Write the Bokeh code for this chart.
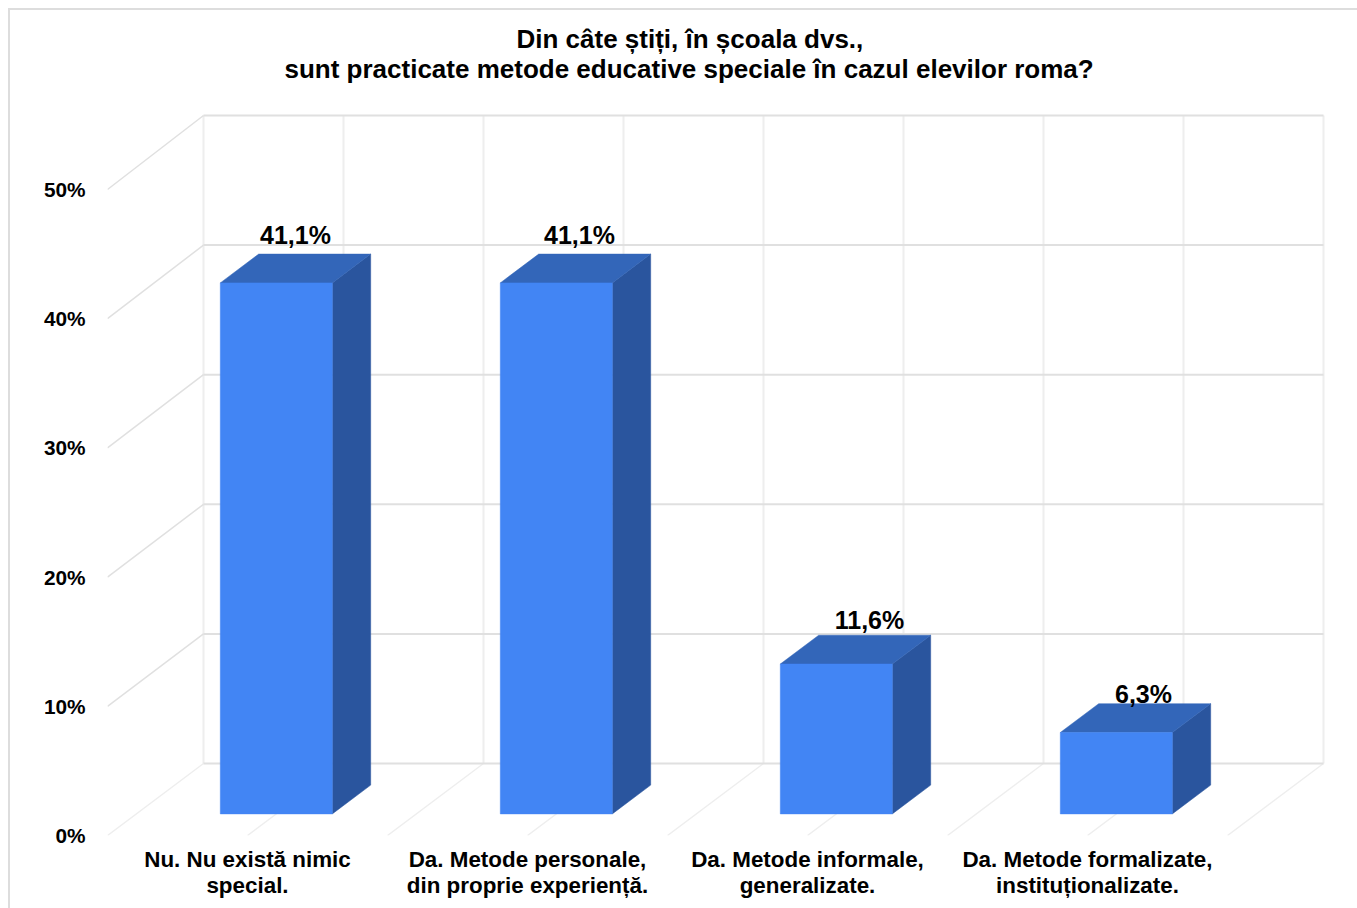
from bokeh.plotting import figure
from bokeh.embed import file_html
from bokeh.resources import INLINE
from bokeh.models import Range1d, FixedTicker, Title, PrintfTickFormatter
from bokeh.core.properties import value

categories = ["Nu. Nu există nimic\nspecial.",
              "Da. Metode personale,\ndin proprie experiență.",
              "Da. Metode informale,\ngeneralizate.",
              "Da. Metode formalizate,\ninstituționalizate."]
values = [41.1, 41.1, 11.6, 6.3]
labels = ["41,1%", "41,1%", "11,6%", "6,3%"]
y_ticks = [0, 10, 20, 30, 40, 50]
title_lines = ["Din câte știți, în școala dvs.,",
               "sunt practicate metode educative speciale în cazul elevilor roma?"]

FONT = "Liberation Sans"
INK = "#000000"
PX_X, PX_Y = 280.0, 12.92      # pixels per category, per percent
DX, DY = 96.0, 72.0            # pixel shift of the full depth
WALL = 12.96 / 12.92           # the back wall is drawn very slightly taller
BAR_W, D0, D1 = 0.4, 0.3, 0.7  # bar width (category units), depth span
n = len(categories)


def proj(u, v, d):
    return u + d * DX / PX_X, v + d * DY / PX_Y


FW, FH = 1220, 723
p = figure(width=1349, height=900, frame_width=FW, frame_height=FH,
           output_backend="svg", toolbar_location=None,
           x_range=Range1d(0, FW / PX_X), y_range=Range1d(0, FH / PX_Y),
           min_border_left=107, min_border_right=22, min_border_top=112, min_border_bottom=65,
           background_fill_color="white", border_fill_color="white", outline_line_color=None)
p.grid.visible = False
# outer frame of the picture: top and left only
p.stylesheets = [":host::before{content:'';position:absolute;left:8px;top:8px;right:-8px;bottom:-8px;"
                 "border-top:2px solid #dddddd;border-left:2px solid #dddddd;z-index:10;pointer-events:none}"]

p.yaxis.ticker = FixedTicker(ticks=y_ticks)
p.yaxis.formatter = PrintfTickFormatter(format="%d%%")
p.xaxis.ticker = FixedTicker(ticks=[i + 0.5 for i in range(n)])
p.xaxis.major_label_overrides = {i + 0.5: c for i, c in enumerate(categories)}
for ax, size, standoff, lh in ((p.yaxis[0], "20.8px", 22, 1.0), (p.xaxis[0], "22.4px", 11, 1.07)):
    ax.axis_line_color = None
    ax.major_tick_line_color = None
    ax.minor_tick_line_color = None
    ax.major_tick_out = 0
    ax.major_label_standoff = standoff
    ax.major_label_text_font = FONT
    ax.major_label_text_font_style = "bold"
    ax.major_label_text_font_size = size
    ax.major_label_text_color = INK
    ax.major_label_text_line_height = lh
p.xaxis[0].major_label_orientation = "horizontal"

p.title = Title(text=title_lines[0], align="left", offset=409, standoff=-60,
                text_font=FONT, text_font_style="bold", text_font_size="26px", text_color=INK)
p.add_layout(Title(text=title_lines[1], align="left", offset=177, standoff=57,
                   text_font=FONT, text_font_style="bold", text_font_size="26px", text_color=INK), "above")

# back wall: vertical lines
xs, ys = [], []
for k in range(2 * n + 1):
    x0, y0 = proj(k / 2, 0, 1)
    x1, y1 = proj(k / 2, y_ticks[-1] * WALL, 1)
    xs.append([x0, x1]); ys.append([y0, y1])
p.multi_line(xs, ys, line_color="#eeeeee", line_width=2)

# floor diagonals
xs, ys = [], []
for k in range(2 * n + 1):
    x0, y0 = proj(k / 2, 0, 0)
    x1, y1 = proj(k / 2, 0, 1)
    xs.append([x0, x1]); ys.append([y0, y1])
p.multi_line(xs, ys, line_color="#eeeeee", line_width=1.5)

# left wall diagonals
xs, ys = [], []
for t in y_ticks[1:]:
    x0, y0 = proj(0, t, 0)
    x1, y1 = proj(0, t * WALL, 1)
    xs.append([x0, x1]); ys.append([y0, y1])
p.multi_line(xs, ys, line_color="#e0e0e0", line_width=1.5)

# back wall: horizontal lines
xs, ys = [], []
for t in y_ticks:
    x0, y0 = proj(0, t * WALL, 1)
    x1, y1 = proj(n, t * WALL, 1)
    xs.append([x0, x1]); ys.append([y0, y1])
p.multi_line(xs, ys, line_color="#e0e0e0", line_width=2)

# bars
front, top, side = ([], []), ([], []), ([], [])


def poly(target, pts):
    P = [proj(*q) for q in pts]
    target[0].append([a for a, _ in P])
    target[1].append([b for _, b in P])


for i, v in enumerate(values):
    l, r = i + 0.5 - BAR_W / 2, i + 0.5 + BAR_W / 2
    poly(front, [(l, 0, D0), (r, 0, D0), (r, v, D0), (l, v, D0)])
    poly(top, [(l, v, D0), (r, v, D0), (r, v, D1), (l, v, D1)])
    poly(side, [(r, 0, D0), (r, 0, D1), (r, v, D1), (r, v, D0)])
p.patches(side[0], side[1], fill_color="#2a559e", line_color="#2a559e", line_width=0.5)
p.patches(top[0], top[1], fill_color="#3366b9", line_color="#3366b9", line_width=0.5)
p.patches(front[0], front[1], fill_color="#4285f4", line_color="#4285f4", line_width=0.5)

# value labels
label_dx = [0, 4, 14, 8]
label_dy = [-33, -33, -30, -24]
lx, ly = [], []
for i, v in enumerate(values):
    a, b = proj(i + 0.5, v, 0.5)
    lx.append(a); ly.append(b)
p.text(lx, ly, text=labels, x_offset=label_dx, y_offset=label_dy, text_align="center",
       text_baseline="middle", text_font=value(FONT), text_font_style="bold",
       text_font_size="25px", text_color=INK)

open("out.html", "w").write(file_html(p, INLINE))
